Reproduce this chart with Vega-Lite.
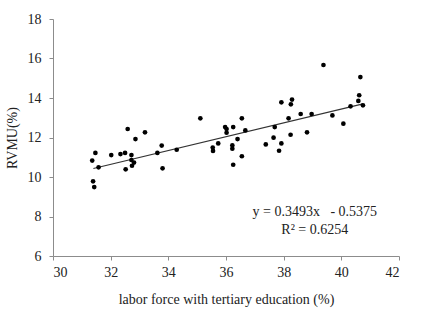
{
  "$schema": "https://vega.github.io/schema/vega-lite/v6.json",
  "width": 346,
  "height": 237,
  "autosize": "none",
  "padding": {"left": 53, "top": 19, "right": 22, "bottom": 68},
  "background": "white",
  "config": {
    "view": {"stroke": null},
    "font": "Liberation Serif",
    "axis": {
      "grid": false,
      "domainColor": "#8c8c8c",
      "tickColor": "#8c8c8c",
      "tickSize": 4,
      "labelOverlap": false,
      "labelFont": "Liberation Serif",
      "labelFontSize": 14,
      "labelColor": "#222",
      "titleFont": "Liberation Serif",
      "titleFontSize": 14,
      "titleFontWeight": "normal",
      "titleColor": "#222"
    }
  },
  "datasets": {
    "points": [
      {"x": 31.36, "y": 10.83}, {"x": 31.39, "y": 9.78}, {"x": 31.43, "y": 9.49}, {"x": 31.47, "y": 11.22},
      {"x": 31.58, "y": 10.49}, {"x": 32.02, "y": 11.11}, {"x": 32.34, "y": 11.16}, {"x": 32.50, "y": 11.22},
      {"x": 32.59, "y": 12.43}, {"x": 32.52, "y": 10.39}, {"x": 32.72, "y": 11.11}, {"x": 32.72, "y": 10.86},
      {"x": 32.74, "y": 10.57}, {"x": 32.81, "y": 10.73}, {"x": 32.86, "y": 11.92}, {"x": 33.19, "y": 12.26},
      {"x": 33.62, "y": 11.22}, {"x": 33.77, "y": 11.59}, {"x": 33.80, "y": 10.44}, {"x": 34.29, "y": 11.38},
      {"x": 35.11, "y": 12.97}, {"x": 35.54, "y": 11.49}, {"x": 35.55, "y": 11.32}, {"x": 35.73, "y": 11.70},
      {"x": 35.97, "y": 12.53}, {"x": 36.02, "y": 12.43}, {"x": 36.02, "y": 12.24}, {"x": 36.22, "y": 11.60},
      {"x": 36.22, "y": 11.43}, {"x": 36.25, "y": 10.62}, {"x": 36.25, "y": 12.53}, {"x": 36.40, "y": 11.92},
      {"x": 36.55, "y": 12.97}, {"x": 36.55, "y": 11.05}, {"x": 36.67, "y": 12.36}, {"x": 37.38, "y": 11.65},
      {"x": 37.65, "y": 11.99}, {"x": 37.69, "y": 12.53}, {"x": 37.84, "y": 11.33}, {"x": 37.92, "y": 11.70},
      {"x": 37.92, "y": 13.78}, {"x": 38.17, "y": 12.97}, {"x": 38.24, "y": 12.14}, {"x": 38.25, "y": 13.68},
      {"x": 38.29, "y": 13.92}, {"x": 38.59, "y": 13.19}, {"x": 38.81, "y": 12.26}, {"x": 38.97, "y": 13.19},
      {"x": 39.38, "y": 15.67}, {"x": 39.69, "y": 13.12}, {"x": 40.07, "y": 12.70}, {"x": 40.32, "y": 13.58},
      {"x": 40.59, "y": 13.85}, {"x": 40.62, "y": 14.14}, {"x": 40.66, "y": 15.06}, {"x": 40.75, "y": 13.63}
    ],
    "trend": [
      {"x": 31.4, "y": 10.43},
      {"x": 40.75, "y": 13.70}
    ],
    "labels": [
      {"x": 39.08, "y": 8.23, "text": "y = 0.3493x \u00a0 - 0.5375"},
      {"x": 39.08, "y": 7.32, "text": "R² = 0.6254"}
    ]
  },
  "encoding": {
    "x": {"field": "x", "type": "quantitative", "scale": {"domain": [30, 42], "nice": false, "zero": false},
      "axis": {"values": [30, 32, 34, 36, 38, 40, 42], "labelOverlap": false, "title": "labor force with tertiary education (%)", "labelPadding": 5, "titlePadding": 13}},
    "y": {"field": "y", "type": "quantitative", "scale": {"domain": [6, 18], "nice": false, "zero": false},
      "axis": {"values": [6, 8, 10, 12, 14, 16, 18], "labelOverlap": false, "labelBound": false, "title": "RVMU(%)", "labelPadding": 8, "titlePadding": 8}}
  },
  "layer": [
    {
      "data": {"name": "trend"},
      "mark": {"type": "line", "color": "#333", "strokeWidth": 1.2}
    },
    {
      "data": {"name": "points"},
      "mark": {"type": "point", "filled": true, "color": "black", "size": 22, "opacity": 1}
    },
    {
      "data": {"name": "labels"},
      "mark": {"type": "text", "fontSize": 14, "color": "#222", "font": "Liberation Serif"},
      "encoding": {
        "text": {"field": "text"}
      }
    }
  ]
}
